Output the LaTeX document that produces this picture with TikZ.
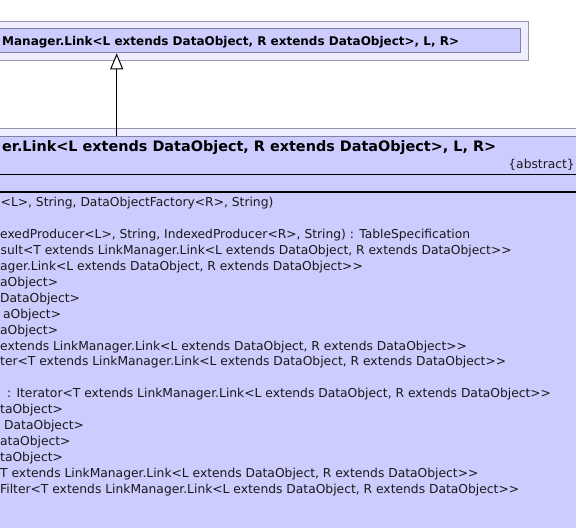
\documentclass[tikz,border=0pt]{standalone}
\usepackage{fontspec}
\newfontfamily\umlfont{DejaVu Sans}
\usetikzlibrary{arrows.meta}
\definecolor{outerfill}{RGB}{238,238,255}
\definecolor{innerfill}{RGB}{204,204,255}
\definecolor{outerdraw}{RGB}{150,150,175}
\definecolor{innerdraw}{RGB}{130,130,165}
\begin{document}
\begin{tikzpicture}[x=1bp,y=-1bp,
  outerbox/.style={fill=outerfill,draw=outerdraw,line width=1bp,inner sep=0,anchor=north west},
  innerbox/.style={fill=innerfill,draw=innerdraw,line width=1bp,inner sep=0,anchor=north west},
  membertext/.style={inner sep=0,text=black!90,font=\umlfont\fontsize{12.3bp}{14bp}\selectfont},
  member/.style={membertext,anchor=base west},
  smalltitle/.style={anchor=base west,inner sep=0,font=\umlfont\bfseries\fontsize{12bp}{14bp}\selectfont},
  bigtitle/.style={anchor=base west,inner sep=0,font=\umlfont\bfseries\fontsize{14.4bp}{16bp}\selectfont},
  sep/.style={draw=black}]
\path[use as bounding box] (0,0) rectangle (576,528);
\clip (0,0) rectangle (576,528);
\fill[white] (0,0) rectangle (576,528);
% superclass
\node[outerbox,minimum width=547.7bp,minimum height=39.6bp] (supouter) at (-20,20.7) {};
\node[innerbox,minimum width=539.7bp,minimum height=24bp] (supinner) at (-20,28.3) {};
\node[smalltitle] (suptitle) at (2,45.7) {Manager.Link<L extends DataObject, R extends DataObject>, L, R>};
% subclass
\node[outerbox,minimum width=620bp,minimum height=420bp] (subouter) at (-20,127.7) {};
\node[innerbox,minimum width=620bp,minimum height=420bp] (subinner) at (-20,136) {};
\node[bigtitle] (subtitle) at (2,151.5) {er.Link<L extends DataObject, R extends DataObject>, L, R>};
\node[membertext,anchor=base east] (abstract) at (575,168.5) {\{abstract\}};
\coordinate (s1a) at (-20,174.3); \coordinate (s1b) at (600,174.3);
\coordinate (s2a) at (-20,191.7); \coordinate (s2b) at (600,191.7);
\draw[sep,line width=1.2bp] (s1a) -- (s1b);
\draw[sep,line width=2bp] (s2a) -- (s2b);
% members
\node[member] (m1) at (0.5,206.5) {<L>, String, DataObjectFactory<R>, String)};
\node[member] (m3) at (0,238.4) {exedProducer<L>, String, IndexedProducer<R>, String) : TableSpecification};
\node[member] (m4) at (0.5,254.3) {sult<T extends LinkManager.Link<L extends DataObject, R extends DataObject>>};
\node[member] (m5) at (0,270.3) {ager.Link<L extends DataObject, R extends DataObject>>};
\node[member] (m6) at (0,286.2) {aObject>};
\node[member] (m7) at (0,302.1) {DataObject>};
\node[member] (m8) at (3,318.1) {aObject>};
\node[member] (m9) at (0,334.0) {aObject>};
\node[member] (m10) at (0,350.0) {extends LinkManager.Link<L extends DataObject, R extends DataObject>>};
\node[member] (m11) at (0,365.9) {ter<T extends LinkManager.Link<L extends DataObject, R extends DataObject>>};
\node[member] (m13) at (7,397.8) {: Iterator<T extends LinkManager.Link<L extends DataObject, R extends DataObject>>};
\node[member] (m14) at (0,413.7) {taObject>};
\node[member] (m15) at (4,429.7) {DataObject>};
\node[member] (m16) at (0,445.6) {ataObject>};
\node[member] (m17) at (0,461.5) {taObject>};
\node[member] (m18) at (0,477.5) {T extends LinkManager.Link<L extends DataObject, R extends DataObject>>};
\node[member] (m19) at (0,493.4) {Filter<T extends LinkManager.Link<L extends DataObject, R extends DataObject>>};
% generalization
\coordinate (subtop) at (116.7,136);
\draw[line width=1bp,-{Triangle[open,fill=white,length=16bp,width=13bp]}] (subtop) -- (subtop |- supinner.south);
\end{tikzpicture}
\end{document}
